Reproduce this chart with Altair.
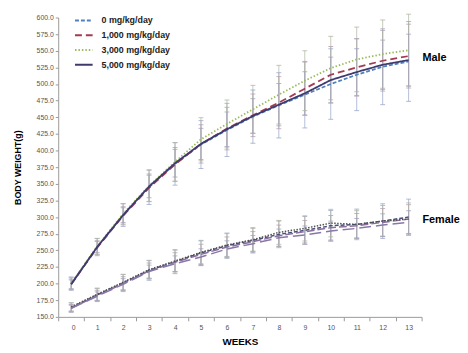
import altair as alt
import pandas as pd

weeks = list(range(14))
groups = ["0 mg/kg/day", "1,000 mg/kg/day", "3,000 mg/kg/day", "5,000 mg/kg/day"]

male_0 = [200, 255, 303, 345, 380, 409, 431, 451, 468, 484, 500, 514, 526, 534]
male_1000 = [199, 254, 302, 344, 379, 410, 433, 453, 472, 493, 514, 525, 535, 542]
male_3000 = [200, 256, 305, 347, 383, 417, 440, 462, 484, 505, 524, 537, 545, 551]
male_5000 = [199, 255, 303, 346, 381, 410, 432, 452, 469, 486, 506, 518, 529, 536]

female_0 = [164, 183, 201, 220, 233, 246, 257, 265, 274, 280, 287, 289, 294, 300]
female_1000 = [163, 182, 200, 219, 232, 244, 255, 263, 272, 278, 284, 287, 292, 297]
female_3000 = [165, 184, 202, 221, 234, 247, 258, 266, 277, 283, 291, 289, 294, 297]
female_5000 = [163, 181, 199, 218, 230, 240, 252, 260, 269, 273, 279, 283, 288, 292]

male_sd = [10, 13, 17, 26, 32, 36, 40, 40, 49, 50, 53, 54, 57, 60]
female_sd = [7, 10, 13, 15, 18, 19, 19, 19, 20, 21, 23, 23, 26, 27]
sd_factor = [1.0, 0.8, 0.9, 0.65]

male_colors = ["#4F81BD", "#A33B52", "#9BBB59", "#3E3A6E"]
male_dash = [[4, 2], [7, 4], [1.5, 2], [1, 0]]
female_colors = ["#44507A", "#8C6E9E", "#505050", "#8878A8"]
female_dash = [[4, 2], [8, 3], [1.5, 1.5], [12, 5]]
bar_colors = ["#9AA8CC", "#B8A0B0", "#B0B8A0", "#A4A4BC"]

rows = []
for sex, series, sds in [
    ("Male", [male_0, male_1000, male_3000, male_5000], male_sd),
    ("Female", [female_0, female_1000, female_3000, female_5000], female_sd),
]:
    for g, vals, f in zip(groups, series, sd_factor):
        for w, v, s in zip(weeks, vals, sds):
            rows.append({"sex": sex, "group": g, "week": w, "value": v,
                         "lo": v - s * f, "hi": v + s * f})
df = pd.DataFrame(rows)
labels_df = pd.DataFrame({"sex": ["Male", "Female"], "week": [13, 13],
                          "value": [539, 295]})

FONT = "Liberation Sans"
tick_vals = [w - 0.5 for w in weeks] + [13.5]

x_scale = alt.Scale(domain=[-0.5, 13.5], nice=False, zero=False)
x_axis = alt.Axis(values=tick_vals, labelOffset=13.2, labelOverlap=False,
                  labelExpr="datum.value > 13 ? '' : format(datum.value + 0.5, 'd')",
                  grid=False, tickSize=4, labelFontSize=7, labelColor="#555",
                  labelPadding=3, titleFontSize=10, titleFontWeight="bold",
                  titleFont=FONT, titlePadding=6, domainColor="#999",
                  tickColor="#999", labelFont=FONT, title="WEEKS")
y_axis = alt.Axis(values=list(range(150, 601, 25)), format=".1f", grid=False,
                  labelOverlap=False,
                  tickSize=3, labelFontSize=7, labelColor="#555", labelPadding=2,
                  title="BODY WEIGHT(g)", titleFontSize=9, titleFontWeight="bold",
                  titleFont=FONT, titlePadding=14, domainColor="#999",
                  tickColor="#999", labelFont=FONT)
y_scale = alt.Scale(domain=[150, 600], nice=False, zero=False)


def X():
    return alt.X("week:Q", scale=x_scale, axis=x_axis)


def Y(field):
    return alt.Y(field, scale=y_scale, axis=y_axis)


base = alt.Chart(df)
bar_color = alt.Color("group:N", scale=alt.Scale(domain=groups, range=bar_colors), legend=None)

bars = base.mark_rule(strokeWidth=1, opacity=0.75).encode(
    x=X(), y=Y("lo:Q"), y2="hi:Q", color=bar_color,
)
caps_lo = base.mark_tick(orient="horizontal", size=5, thickness=1, opacity=0.8).encode(
    x=X(), y=Y("lo:Q"), color=bar_color,
)
caps_hi = base.mark_tick(orient="horizontal", size=5, thickness=1, opacity=0.8).encode(
    x=X(), y=Y("hi:Q"), color=bar_color,
)

male_lines = base.transform_filter(alt.datum.sex == "Male").mark_line(strokeWidth=1.8).encode(
    x=X(), y=Y("value:Q"),
    color=alt.Color("group:N", scale=alt.Scale(domain=groups, range=male_colors),
                    legend=alt.Legend(title=None)),
    strokeDash=alt.StrokeDash("group:N", scale=alt.Scale(domain=groups, range=male_dash),
                              legend=alt.Legend(title=None)),
)
female_lines = base.transform_filter(alt.datum.sex == "Female").mark_line(strokeWidth=1.5).encode(
    x=X(), y=Y("value:Q"),
    color=alt.Color("group:N", scale=alt.Scale(domain=groups, range=female_colors), legend=None),
    strokeDash=alt.StrokeDash("group:N", scale=alt.Scale(domain=groups, range=female_dash), legend=None),
)

sex_labels = alt.Chart(labels_df).mark_text(
    align="left", baseline="middle", fontWeight="bold", fontSize=11, font=FONT, dx=14
).encode(x=X(), y=Y("value:Q"), text="sex:N")

chart = alt.layer(bars, caps_lo, caps_hi, female_lines, male_lines, sex_labels).resolve_scale(
    color="independent", strokeDash="independent"
).properties(
    width=369, height=304, padding={"left": 5, "top": 0, "right": 0, "bottom": 2}
).configure_view(stroke=None).configure_axis(labelOverlap=False).configure_legend(
    orient="none", legendX=16, legendY=-7, labelFont=FONT, labelFontWeight="bold",
    labelFontSize=9, labelColor="#222", symbolType="stroke", symbolStrokeWidth=2,
    symbolSize=320, rowPadding=0, labelOffset=8
)

chart.save("out.html", embed_options={"renderer": "svg", "actions": False})
